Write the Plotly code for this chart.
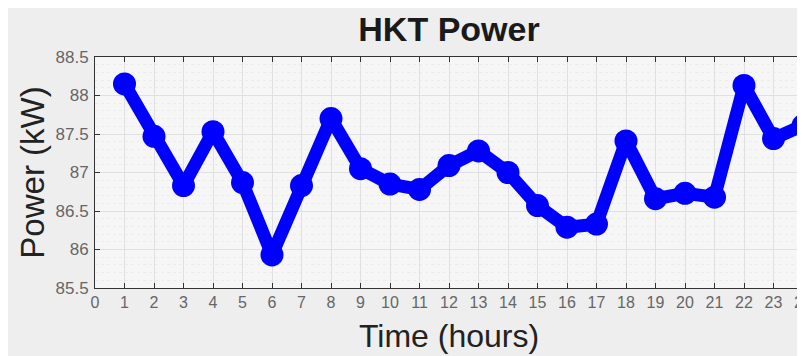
import plotly.graph_objects as go

hours = list(range(1, 25))
power_kw = [88.15, 87.47, 86.83, 87.53, 86.87, 85.93, 86.83, 87.70, 87.05, 86.85,
            86.78, 87.09, 87.28, 87.00, 86.57, 86.29, 86.33, 87.41, 86.66, 86.73,
            86.68, 88.13, 87.44, 87.61]
x_ticks = list(range(0, 25))
y_ticks = [85.5, 86, 86.5, 87, 87.5, 88, 88.5]

fig = go.Figure()
fig.add_trace(go.Scatter(
    x=hours, y=power_kw, mode="lines+markers",
    line=dict(color="#0000ff", width=13),
    marker=dict(color="#0000ff", size=23),
    showlegend=False, cliponaxis=False,
))

FONT = "Liberation Sans, Arial, sans-serif"
# page body adds an 8px offset, so the layout is placed 8px up/left
fig.update_layout(
    width=805, height=356,
    margin=dict(l=87, r=10, t=49, b=76, autoexpand=False),
    paper_bgcolor="#eeeeee", plot_bgcolor="#f6f6f6",
    title=dict(text="<b>HKT Power</b>", x=441 / 805, xanchor="center",
               y=1 - 21 / 356, yanchor="middle", yref="container",
               font=dict(family=FONT, size=34, color="#1a1a1a")),
    font=dict(family=FONT),
)
fig.update_xaxes(
    range=[0, 24], tickmode="array", tickvals=x_ticks, ticktext=[str(v) for v in x_ticks],
    ticks="inside", ticklen=5, tickcolor="#333333", mirror="ticks",
    showline=True, linecolor="#333333", linewidth=1, automargin=False,
    showgrid=True, gridcolor="#e0e0e0", gridwidth=1, zeroline=False,
    tickfont=dict(family=FONT, size=16, color="#666666"),
    title=dict(text="Time (hours)", standoff=14,
               font=dict(family=FONT, size=32, color="#222222")),
)
fig.update_yaxes(
    range=[85.5, 88.5], tickmode="array", tickvals=y_ticks, ticktext=[f"{v:g}" for v in y_ticks],
    ticks="inside", ticklen=5, tickcolor="#333333", mirror="ticks",
    showline=True, linecolor="#333333", linewidth=1, automargin=False,
    showgrid=True, gridcolor="#e0e0e0", gridwidth=1, zeroline=False,
    minor=dict(dtick=0.1, showgrid=True, gridcolor="#ececec", griddash="dot", ticks=""),
    tickfont=dict(family=FONT, size=17, color="#666666"), ticklabelstandoff=2,
    title=dict(text="Power (kW)", standoff=0,
               font=dict(family=FONT, size=33, color="#222222")),
)

fig.write_html("out.html")
